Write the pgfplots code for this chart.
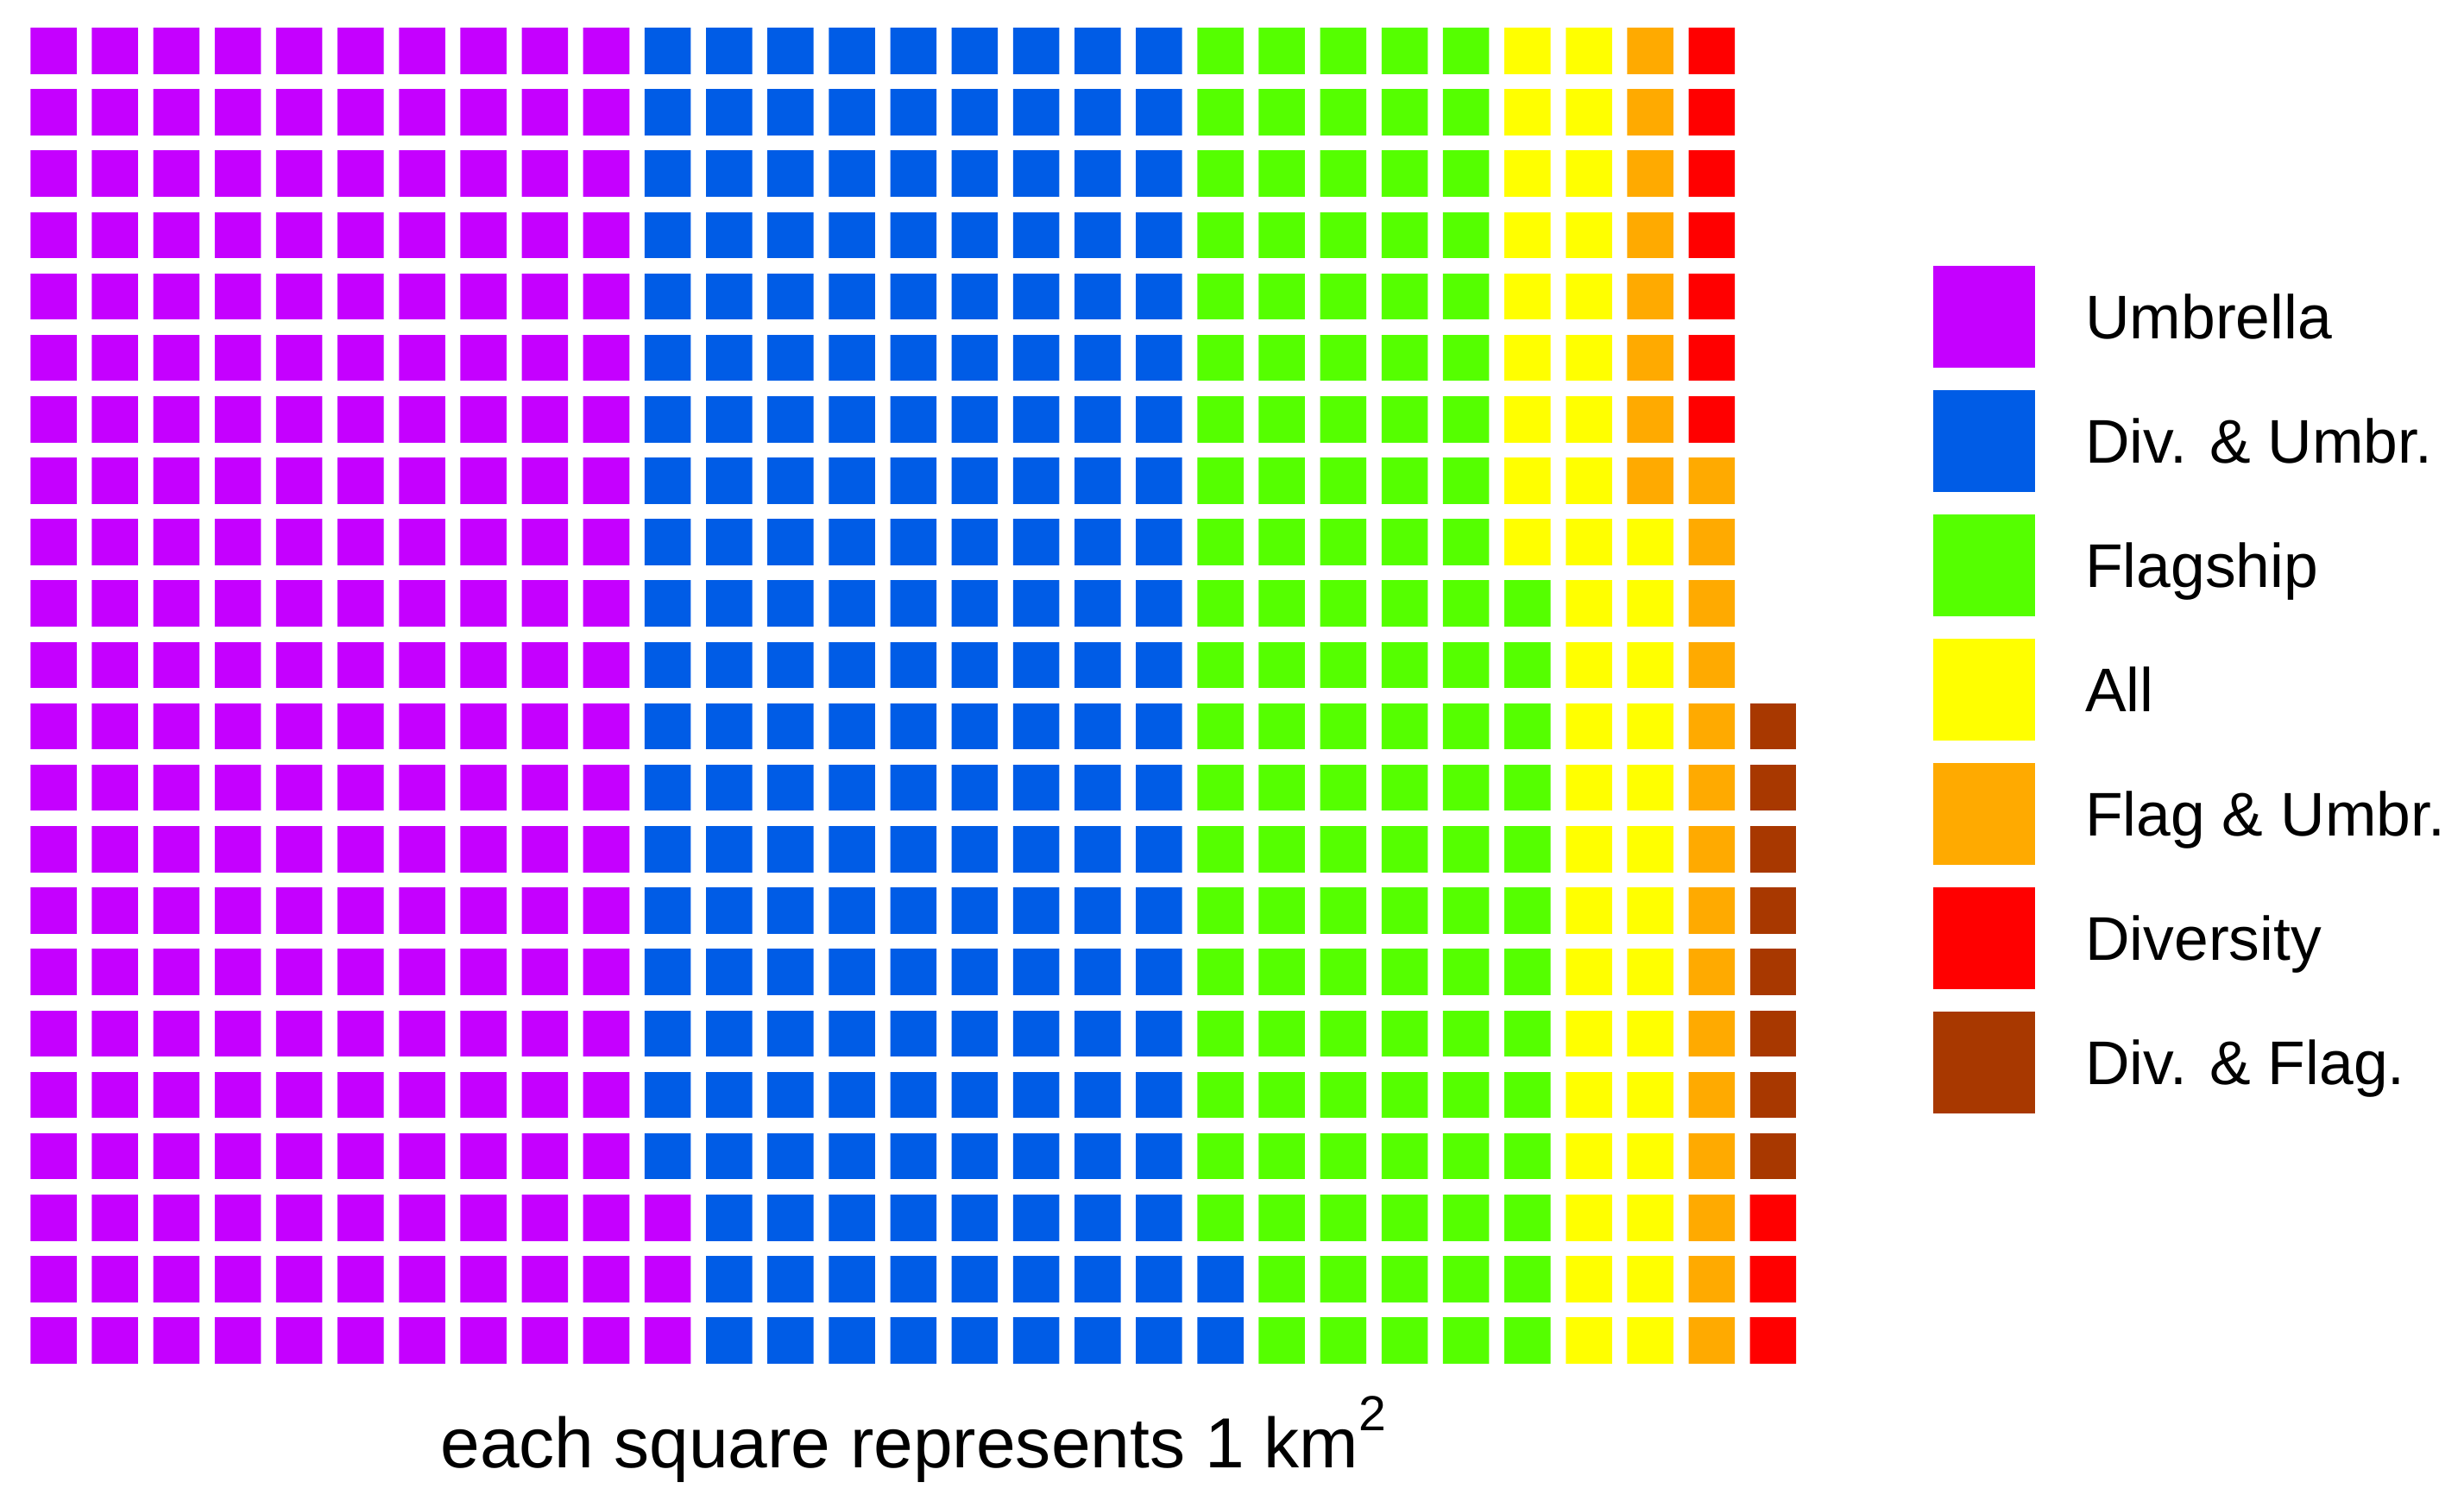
\documentclass[border=0pt]{standalone}
\usepackage{pgfplots}
\usepackage{pgfplotstable}
\usepackage{fontspec}
\setmainfont{Liberation Sans}
\pgfplotsset{compat=1.18}
\definecolor{cUmb}{HTML}{C500FF}
\definecolor{cDivUmb}{HTML}{005CE6}
\definecolor{cFlag}{HTML}{55FF00}
\definecolor{cAll}{HTML}{FFFF00}
\definecolor{cFlagUmb}{HTML}{FFAA00}
\definecolor{cDiv}{HTML}{FF0000}
\definecolor{cDivFlag}{HTML}{A83800}
\pgfplotsset{sqlegend/.style={legend image code/.code={\fill[##1] (0pt,-4.68pt) rectangle (16.52pt,11.84pt);}}}

% squares per column of the waffle, stacked from the bottom
\pgfplotstableread{
x  um du fl al fu di df
1  22 0  0  0  0  0  0
2  22 0  0  0  0  0  0
3  22 0  0  0  0  0  0
4  22 0  0  0  0  0  0
5  22 0  0  0  0  0  0
6  22 0  0  0  0  0  0
7  22 0  0  0  0  0  0
8  22 0  0  0  0  0  0
9  22 0  0  0  0  0  0
10 22 0  0  0  0  0  0
11 3  19 0  0  0  0  0
12 0  22 0  0  0  0  0
13 0  22 0  0  0  0  0
14 0  22 0  0  0  0  0
15 0  22 0  0  0  0  0
16 0  22 0  0  0  0  0
17 0  22 0  0  0  0  0
18 0  22 0  0  0  0  0
19 0  22 0  0  0  0  0
20 0  2  20 0  0  0  0
21 0  0  22 0  0  0  0
22 0  0  22 0  0  0  0
23 0  0  22 0  0  0  0
24 0  0  22 0  0  0  0
25 0  0  13 9  0  0  0
26 0  0  0  22 0  0  0
27 0  0  0  14 8  0  0
28 0  0  0  0  15 7  0
29 0  0  0  0  0  3  8
}\waffle

\begin{document}
\begin{tikzpicture}
\path[use as bounding box] (-3.71pt,-21.04pt) rectangle (395.99pt,222.42pt);
\begin{axis}[
  at={(0pt,0pt)},anchor=south west,
  x=9.962pt,y=9.962pt,
  xmin=0.5,xmax=29.5,ymin=0,ymax=22,
  enlargelimits=false,
  ybar stacked,bar width=0.752,
  every axis plot post/.append style={sqlegend},
  axis on top,
  axis line style={draw=none},
  major tick length=0pt,
  xtick=\empty,
  ytick={0,1,...,22},yticklabels={},
  ymajorgrids=true,
  major grid style={white,line width=2.47pt},
  xlabel={each square represents 1 km\raisebox{6pt}{\fontsize{8}{9}\selectfont 2}},
  xlabel style={at={(axis description cs:0.5,-0.0711)},anchor=base,inner sep=0pt,
    font=\fontsize{11.5}{13}\selectfont},
  legend style={draw=none,fill=none,inner sep=0pt,outer sep=0pt,
    at={(axis description cs:1.0725,0.8181)},anchor=north west,
    row sep=3.64pt,column sep=8.2pt,
    nodes={inner sep=0pt,anchor=base west},
    font=\fontsize{10}{12}\selectfont},
  legend cell align=left,
]
\addplot[fill=cUmb,draw=none] table[x=x,y=um] {\waffle};
\addplot[fill=cDivUmb,draw=none] table[x=x,y=du] {\waffle};
\addplot[fill=cFlag,draw=none] table[x=x,y=fl] {\waffle};
\addplot[fill=cAll,draw=none] table[x=x,y=al] {\waffle};
\addplot[fill=cFlagUmb,draw=none] table[x=x,y=fu] {\waffle};
\addplot[fill=cDiv,draw=none] table[x=x,y=di] {\waffle};
\addplot[fill=cDivFlag,draw=none] table[x=x,y=df] {\waffle};
\legend{Umbrella,Div. \& Umbr.,Flagship,All,Flag \& Umbr.,Diversity,Div. \& Flag.}
\end{axis}
\end{tikzpicture}
\end{document}
